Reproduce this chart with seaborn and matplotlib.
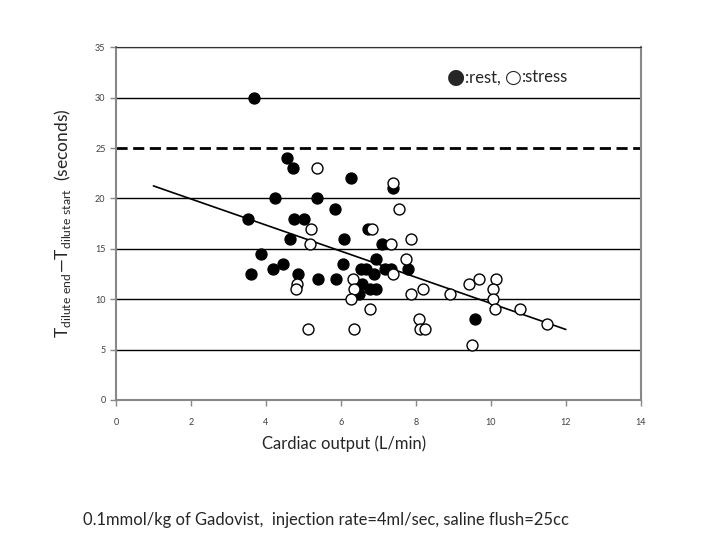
import seaborn as sns
import pandas as pd
import matplotlib.pyplot as plt
from matplotlib.offsetbox import TextArea, HPacker, AnchoredOffsetbox

# rest (filled) and stress (open) points
rest_x = [3.68, 4.55, 4.71, 6.28, 4.23, 5.37, 5.85, 3.51, 4.75, 5.02, 6.72, 4.65,
          6.09, 7.39, 7.10, 3.87, 6.95, 4.45, 6.06, 4.19, 6.54, 6.68, 7.18, 7.35,
          7.78, 3.61, 4.86, 6.89, 5.38, 5.88, 6.56, 6.77, 6.95, 6.48, 9.57]
rest_y = [30.0, 24.0, 23.0, 22.0, 20.0, 20.0, 19.0, 18.0, 18.0, 18.0, 17.0, 16.0,
          16.0, 21.0, 15.5, 14.5, 14.0, 13.5, 13.5, 13.0, 13.0, 13.0, 13.0, 13.0,
          13.0, 12.5, 12.5, 12.5, 12.0, 12.0, 11.5, 11.0, 11.0, 10.5, 8.0]

stress_x = [5.37, 7.39, 7.54, 5.21, 6.82, 5.17, 7.35, 7.87, 7.73, 7.39, 6.33, 6.36,
            4.84, 4.80, 6.27, 6.77, 5.11, 6.36, 7.88, 8.18, 8.08, 8.12, 8.24, 8.91,
            9.42, 9.68, 9.49, 10.15, 10.06, 10.06, 10.11, 10.79, 11.49]
stress_y = [23.0, 21.5, 19.0, 17.0, 17.0, 15.5, 15.5, 16.0, 14.0, 12.5, 12.0, 11.0,
            11.5, 11.0, 10.0, 9.0, 7.0, 7.0, 10.5, 11.0, 8.0, 7.0, 7.0, 10.5,
            11.5, 12.0, 5.5, 12.0, 11.0, 10.0, 9.0, 9.0, 7.5]

trend_x = [1.0, 12.0]
trend_y = [21.25, 7.0]
limit_y = 25

x_ticks = [0, 2, 4, 6, 8, 10, 12, 14]
y_ticks = [0, 5, 10, 15, 20, 25, 30, 35]

rest = pd.DataFrame({"co": rest_x, "t": rest_y})
stress = pd.DataFrame({"co": stress_x, "t": stress_y})

sns.set_style("white")
plt.rcParams['font.family'] = ['Lato', 'DejaVu Sans']
plt.rcParams['mathtext.fontset'] = 'custom'
plt.rcParams['mathtext.rm'] = 'Lato'

fig = plt.figure(figsize=(7.2, 5.4), dpi=100)
ax = fig.add_axes([0.161, 0.2593, 0.729, 0.653])

for v in y_ticks[1:]:
    if v == limit_y:
        continue
    ax.axhline(v, color='black', lw=1.0, zorder=1)
ax.axhline(limit_y, color='black', lw=2.0, ls=(0, (4, 2)), zorder=1)

ax.plot(trend_x, trend_y, color='black', lw=1.2, zorder=2)

sns.scatterplot(data=rest, x="co", y="t", ax=ax, color='black', edgecolor='black',
                s=62, linewidth=1, zorder=3)
sns.scatterplot(data=stress, x="co", y="t", ax=ax, color='white', edgecolor='black',
                s=62, linewidth=1, zorder=4)

ax.set_xlim(0, 14)
ax.set_ylim(0, 35)
ax.set_xticks(x_ticks)
ax.set_yticks(y_ticks)
ax.tick_params(axis='both', labelsize=6.5, labelcolor='#404040', color='#888888',
               direction='out', length=4, width=1, left=True, bottom=True)
ax.tick_params(axis='x', pad=9)
for side in ['left', 'bottom', 'right']:
    ax.spines[side].set_color('#888888')
    ax.spines[side].set_linewidth(1.5)
ax.spines['top'].set_color('#333333')

ax.set_xlabel("Cardiac output (L/min)", fontsize=12)
ax.xaxis.set_label_coords(0.435, -0.1)
ax.set_ylabel(r"T$_{\mathrm{dilute\ end}}$" + "\u2014" + r"T$_{\mathrm{dilute\ start}}$" + "  (seconds)",
              fontsize=12.5)
ax.yaxis.set_label_coords(-0.082, 0.5)

legend_box = HPacker(children=[
    TextArea("\u25cf", textprops=dict(fontsize=15, family=['DejaVu Sans'])),
    TextArea(":rest, ", textprops=dict(fontsize=12)),
    TextArea("\u25cb", textprops=dict(fontsize=14, family=['DejaVu Sans'])),
    TextArea(":stress", textprops=dict(fontsize=12)),
], align="center", pad=0, sep=0)
anchored = AnchoredOffsetbox(loc='center left', child=legend_box, pad=0, frameon=False,
                             bbox_to_anchor=(0.63, 0.915), bbox_transform=ax.transAxes,
                             borderpad=0)
ax.add_artist(anchored)

fig.text(0.115, 0.037, "0.1mmol/kg of Gadovist,  injection rate=4ml/sec, saline flush=25cc",
         fontsize=11.9, va='center')

fig.savefig("out.png", dpi=100)
